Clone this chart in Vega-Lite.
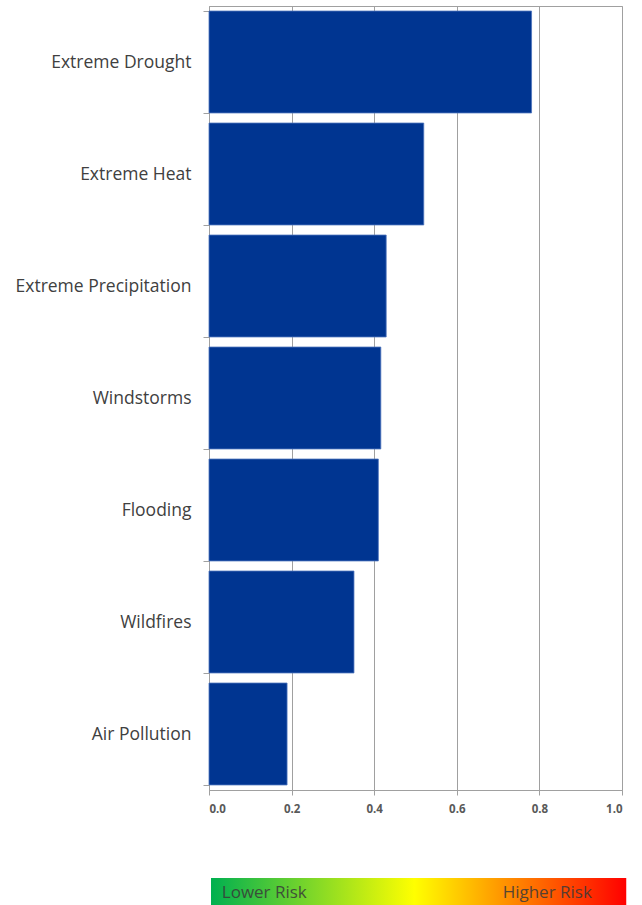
{
  "$schema": "https://vega.github.io/schema/vega-lite/v6.json",
  "padding": {"left": 14, "top": -4, "right": 5, "bottom": 0},
  "spacing": 63,
  "config": {
    "font": "Open Sans",
    "view": {"stroke": null}
  },
  "datasets": {
    "risks": [
      {"hazard": "Extreme Drought", "score": 0.781},
      {"hazard": "Extreme Heat", "score": 0.52},
      {"hazard": "Extreme Precipitation", "score": 0.429},
      {"hazard": "Windstorms", "score": 0.416},
      {"hazard": "Flooding", "score": 0.41},
      {"hazard": "Wildfires", "score": 0.351},
      {"hazard": "Air Pollution", "score": 0.189}
    ],
    "legend": [
      {"label": "Lower Risk", "start": 0.005, "end": 1.01, "pos": 0.031, "side": "left"},
      {"label": "Higher Risk", "start": 0.005, "end": 1.01, "pos": 0.927, "side": "right"}
    ]
  },
  "vconcat": [
    {
      "width": 413,
      "height": 784,
      "view": {"stroke": "#a0a0a0", "strokeWidth": 1},
      "data": {"name": "risks"},
      "mark": {"type": "bar", "color": "#003591", "stroke": "#4d74bd", "strokeWidth": 0.8},
      "encoding": {
        "y": {
          "field": "hazard",
          "type": "nominal",
          "sort": null,
          "title": null,
          "scale": {"paddingInner": 0.09, "paddingOuter": 0.045},
          "axis": {
            "domainColor": "#a0a0a0",
            "tickColor": "#a0a0a0",
            "tickBand": "extent",
            "tickSize": 6,
            "labelPadding": 12,
            "labelFontSize": 17.5,
            "labelColor": "#404040",
            "labelFont": "Open Sans"
          }
        },
        "x": {
          "field": "score",
          "type": "quantitative",
          "title": null,
          "scale": {"domain": [0, 1], "nice": false},
          "axis": {
            "values": [0, 0.2, 0.4, 0.6, 0.8, 1.0],
            "format": ".1f",
            "grid": true,
            "gridColor": "#a0a0a0",
            "gridWidth": 1,
            "domainColor": "#a0a0a0",
            "tickColor": "#a0a0a0",
            "tickSize": 5,
            "labelPadding": 8,
            "labelFontSize": 11.5,
            "labelFontWeight": "bold",
            "labelColor": "#595959",
            "labelFont": "Open Sans"
          }
        }
      }
    },
    {
      "width": 413,
      "height": 32,
      "data": {"name": "legend"},
      "layer": [
        {
          "mark": {
            "type": "rect",
            "clip": false,
            "color": {
              "gradient": "linear",
              "x1": 0, "x2": 1, "y1": 0, "y2": 0,
              "stops": [
                {"offset": 0, "color": "#00b050"},
                {"offset": 0.49, "color": "#ffff00"},
                {"offset": 1, "color": "#ff0000"}
              ]
            }
          },
          "encoding": {
            "x": {"field": "start", "type": "quantitative", "scale": {"domain": [0, 1], "nice": false}, "axis": null},
            "x2": {"field": "end"}
          }
        },
        {
          "transform": [{"filter": "datum.side == 'left'"}],
          "mark": {"type": "text", "align": "left", "fontSize": 17, "color": "#3a3a3a", "opacity": 0.85, "baseline": "middle", "dy": -1},
          "encoding": {
            "x": {"field": "pos", "type": "quantitative", "scale": {"domain": [0, 1], "nice": false}, "axis": null},
            "text": {"field": "label"}
          }
        },
        {
          "transform": [{"filter": "datum.side == 'right'"}],
          "mark": {"type": "text", "align": "right", "fontSize": 17, "color": "#3a3a3a", "opacity": 0.85, "baseline": "middle", "dy": -1},
          "encoding": {
            "x": {"field": "pos", "type": "quantitative", "scale": {"domain": [0, 1], "nice": false}, "axis": null},
            "text": {"field": "label"}
          }
        }
      ]
    }
  ]
}
